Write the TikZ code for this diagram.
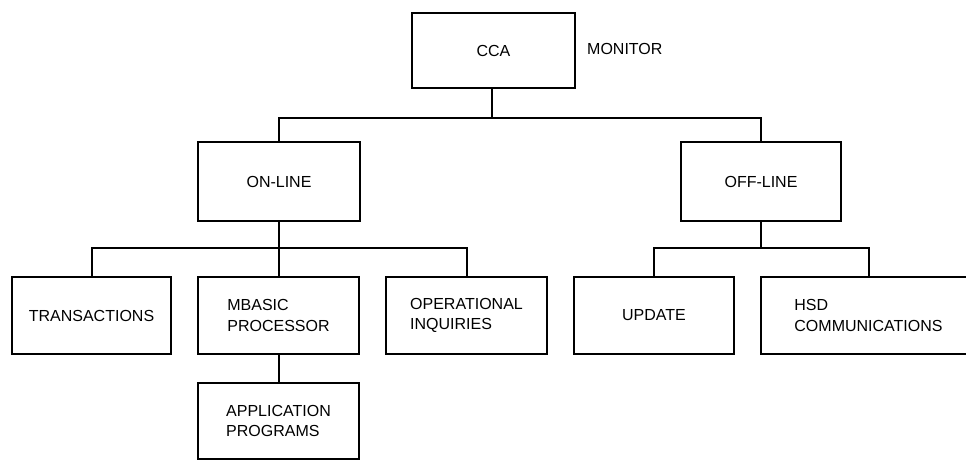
\documentclass[tikz,border=0pt]{standalone}
\usepackage{fontspec}
\setmainfont{Liberation Sans}
\begin{document}
\begin{tikzpicture}[x=1pt,y=-1pt,
  box/.style={draw=black, line width=1.7pt, rectangle, inner sep=0pt, align=left,
    font=\fontsize{16}{20.5}\selectfont},
  conn/.style={draw=black, line width=2pt},
  lbl/.style={font=\fontsize{16}{20.5}\selectfont, inner sep=0pt}]
\clip (0,0) rectangle (966,461);
\fill[white] (0,0) rectangle (966,461);
% top level
\node[box, minimum width=163pt, minimum height=75pt] (cca) at (493.5,50.5) {CCA};
\node[lbl, anchor=west] (mon) at (587,49) {MONITOR};
% second level
\node[box, minimum width=162pt, minimum height=79pt] (on) at (279,181.5) {ON-LINE};
\node[box, minimum width=160pt, minimum height=79pt] (off) at (761,181.5) {OFF-LINE};
% third level
\node[box, minimum width=159pt, minimum height=77pt] (tr) at (91.5,315.5) {TRANSACTIONS};
\node[box, minimum width=161pt, minimum height=77pt] (mb) at (278.5,315.5) {MBASIC\\PROCESSOR};
\node[box, minimum width=161pt, minimum height=77pt] (op) at (466.5,315.5) {OPERATIONAL\\INQUIRIES};
\node[box, minimum width=160pt, minimum height=77pt] (up) at (654,315.5) {UPDATE};
\node[box, minimum width=215pt, minimum height=77pt] (hsd) at (868.5,315.5) {HSD\\COMMUNICATIONS};
% fourth level
\node[box, minimum width=161pt, minimum height=76pt] (app) at (278.5,421) {APPLICATION\\PROGRAMS};
% bus coordinates
\coordinate (b1) at (492,118);
\coordinate (b2) at (279,248);
\coordinate (b3) at (761,248);
% connectors
\draw[conn] (cca.south -| b1) -- (b1);
\draw[conn] (on.north) -- (on.north |- b1) -- (off.north |- b1) -- (off.north);
\draw[conn] (on.south) -- (b2);
\draw[conn] (tr.north) -- (tr.north |- b2) -- (op.north |- b2) -- (op.north);
\draw[conn] (mb.north) -- (mb.north |- b2);
\draw[conn] (off.south) -- (b3);
\draw[conn] (up.north) -- (up.north |- b3) -- (hsd.north |- b3) -- (hsd.north);
\draw[conn] (mb.south) -- (app.north);
\end{tikzpicture}
\end{document}
